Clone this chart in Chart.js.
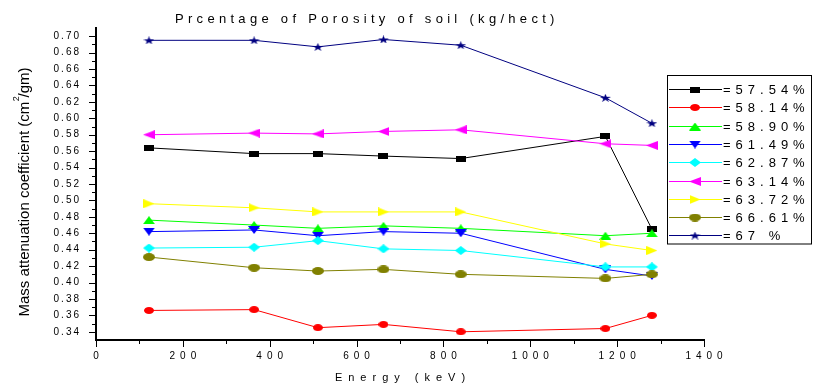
<!DOCTYPE html>
<html>
<head>
<meta charset="utf-8">
<script src="https://cdn.jsdelivr.net/npm/chart.js@4.4.1/dist/chart.umd.min.js"></script>
<style>
  html, body { margin: 0; padding: 0; background: #fff; }
  #wrap { width: 816px; height: 388px; }
</style>
</head>
<body>
<div id="wrap"><canvas id="chart" width="816" height="388"></canvas></div>
<script>
// energies (keV) and mass attenuation coefficient per porosity
const energies = [122, 364, 511, 662, 840, 1173, 1280];
const por5754 = [0.564, 0.557, 0.557, 0.554, 0.551, 0.578, 0.465];
const por5814 = [0.366, 0.367, 0.345, 0.349, 0.340, 0.344, 0.360];
const por5890 = [0.476, 0.470, 0.466, 0.469, 0.466, 0.457, 0.460];
const por6149 = [0.462, 0.464, 0.457, 0.462, 0.460, 0.416, 0.408];
const por6287 = [0.442, 0.443, 0.451, 0.441, 0.439, 0.419, 0.419];
const por6314 = [0.580, 0.582, 0.581, 0.584, 0.586, 0.569, 0.567];
const por6372 = [0.496, 0.491, 0.486, 0.486, 0.486, 0.447, 0.439];
const por6661 = [0.431, 0.418, 0.414, 0.416, 0.410, 0.405, 0.410];
const por6700 = [0.695, 0.695, 0.687, 0.696, 0.689, 0.625, 0.594];

const seriesLabels = ["=57.54%", "=58.14%", "=58.90%", "=61.49%", "=62.87%", "=63.14%", "=63.72%", "=66.61%", "=67 %"];
const seriesValues = [por5754, por5814, por5890, por6149, por6287, por6314, por6372, por6661, por6700];

const xTicks = [0, 200, 400, 600, 800, 1000, 1200, 1400];
const yTicks = [0.34, 0.36, 0.38, 0.40, 0.42, 0.44, 0.46, 0.48, 0.50, 0.52, 0.54, 0.56, 0.58, 0.60, 0.62, 0.64, 0.66, 0.68, 0.70];

const titleText = "Prcentage of Porosity of soil (kg/hect)";
const xTitle = "Energy (keV)";

// look of each series: colour, marker shape, marker w/h
const styles = [
  { color: "#000000", shape: "square", w: 10, h: 6 },
  { color: "#ff0000", shape: "circle", w: 10, h: 7 },
  { color: "#00ff00", shape: "up", w: 12, h: 8 },
  { color: "#0000ff", shape: "down", w: 12, h: 8 },
  { color: "#00ffff", shape: "diamond", w: 12, h: 9 },
  { color: "#ff00ff", shape: "left", w: 12, h: 9 },
  { color: "#ffff00", shape: "right", w: 11, h: 9 },
  { color: "#808000", shape: "circle", w: 12, h: 8 },
  { color: "#000080", shape: "star", w: 11, h: 8 }
];

const fontFam = '"Liberation Sans", Arial, sans-serif';

function spaced(str, sp) {
  return str.split("").join(sp);
}

function marker(shape, color, w, h) {
  const c = document.createElement("canvas");
  c.width = w;
  c.height = h;
  const g = c.getContext("2d");
  g.fillStyle = color;
  g.beginPath();
  if (shape === "square") {
    g.rect(0, 0, w, h);
  } else if (shape === "circle") {
    g.ellipse(w / 2, h / 2, w / 2, h / 2, 0, 0, Math.PI * 2);
  } else if (shape === "up") {
    g.moveTo(w / 2, 0); g.lineTo(w, h); g.lineTo(0, h);
  } else if (shape === "down") {
    g.moveTo(0, 0); g.lineTo(w, 0); g.lineTo(w / 2, h);
  } else if (shape === "diamond") {
    g.moveTo(w / 2, 0); g.lineTo(w, h / 2); g.lineTo(w / 2, h); g.lineTo(0, h / 2);
  } else if (shape === "left") {
    g.moveTo(0, h / 2); g.lineTo(w, 0); g.lineTo(w, h);
  } else if (shape === "right") {
    g.moveTo(0, 0); g.lineTo(w, h / 2); g.lineTo(0, h);
  } else if (shape === "star") {
    const rx = w / 1.902, ry = h / 1.809;
    for (let i = 0; i < 10; i++) {
      const r = i % 2 ? 0.382 : 1;
      const a = -Math.PI / 2 + i * Math.PI / 5;
      g.lineTo(w / 2 + Math.cos(a) * r * rx, ry + Math.sin(a) * r * ry);
    }
  }
  g.closePath();
  g.fill();
  return c;
}

const markers = styles.map((s) => marker(s.shape, s.color, s.w, s.h));

const datasets = seriesValues.map((vals, i) => ({
  label: seriesLabels[i],
  data: energies.map((e, j) => ({ x: e, y: vals[j] })),
  borderColor: styles[i].color,
  backgroundColor: styles[i].color,
  borderWidth: 1,
  pointStyle: markers[i],
  pointRadius: 5,
  tension: 0,
  fill: false,
  order: seriesValues.length - i
}));

const decor = {
  id: "decor",
  afterDraw(chart) {
    const ctx = chart.ctx;
    const xs = chart.scales.x, ys = chart.scales.y;
    const area = chart.chartArea;
    ctx.save();
    ctx.strokeStyle = "#000";
    ctx.lineWidth = 1;
    ctx.beginPath();
    // y ticks, major on labels, minor halfway
    yTicks.forEach((v, i) => {
      const py = Math.round(ys.getPixelForValue(v)) + 0.5;
      ctx.moveTo(area.left - 7, py); ctx.lineTo(area.left, py);
      if (i > 0) {
        const pm = Math.round(ys.getPixelForValue((v + yTicks[i - 1]) / 2)) + 0.5;
        ctx.moveTo(area.left - 4, pm); ctx.lineTo(area.left, pm);
      }
    });
    xTicks.forEach((v, i) => {
      const px = Math.round(xs.getPixelForValue(v)) + 0.5;
      ctx.moveTo(px, area.bottom); ctx.lineTo(px, area.bottom + 7);
      if (i > 0) {
        const pm = Math.round(xs.getPixelForValue((v + xTicks[i - 1]) / 2)) + 0.5;
        ctx.moveTo(pm, area.bottom); ctx.lineTo(pm, area.bottom + 4);
      }
    });
    ctx.stroke();

    ctx.fillStyle = "#000";
    ctx.textBaseline = "middle";

    // chart title
    ctx.font = "13px " + fontFam;
    ctx.letterSpacing = "4.3px";
    ctx.textAlign = "left";
    ctx.fillText(titleText, 175, 19);

    // x axis title
    ctx.font = "11px " + fontFam;
    ctx.letterSpacing = "6px";
    ctx.textAlign = "left";
    const xw = ctx.measureText(xTitle).width - 6;
    ctx.fillText(xTitle, (area.left + area.right) / 2 - xw / 2, 378);

    // y axis title with superscript
    ctx.letterSpacing = "0px";
    ctx.font = "15px " + fontFam;
    const p1 = "Mass attenuation coefficient (cm", p2 = "/gm)";
    const w1 = ctx.measureText(p1).width, wsp = ctx.measureText(" ").width, w2 = ctx.measureText(p2).width;
    const total = w1 + wsp + w2;
    ctx.save();
    ctx.translate(25, 192);
    ctx.rotate(-Math.PI / 2);
    ctx.textAlign = "left";
    ctx.fillText(p1, -total / 2, 0);
    ctx.fillText(p2, -total / 2 + w1 + wsp, 0);
    ctx.font = "9px " + fontFam;
    ctx.fillText("2", -total / 2 + w1 + 0.5, -8);
    ctx.restore();

    // legend box
    const lx = 667.5, ly = 75.5, lw = 144, lh = 168.5;
    ctx.fillStyle = "#fff";
    ctx.fillRect(lx, ly, lw, lh);
    ctx.strokeStyle = "#000";
    ctx.strokeRect(lx, ly, lw, lh);
    ctx.font = "13px " + fontFam;
    ctx.letterSpacing = "5px";
    seriesLabels.forEach((lab, i) => {
      const ry = Math.round(89 + i * 18.3) + 0.5;
      ctx.strokeStyle = styles[i].color;
      ctx.beginPath();
      ctx.moveTo(669, ry); ctx.lineTo(722, ry);
      ctx.stroke();
      const m = markers[i];
      ctx.drawImage(m, 695 - m.width / 2, ry - m.height / 2);
      ctx.fillStyle = "#000";
      ctx.fillText(lab, 723, ry + 1);
    });
    ctx.restore();
  }
};

new Chart(document.getElementById("chart"), {
  type: "line",
  data: { datasets },
  options: {
    responsive: false,
    animation: false,
    devicePixelRatio: 1,
    layout: { padding: { left: 0, right: 112, top: 28, bottom: 0 } },
    plugins: { legend: { display: false }, title: { display: false }, tooltip: { enabled: false } },
    scales: {
      x: {
        type: "linear",
        min: 0,
        max: 1400,
        afterBuildTicks: (scale) => { scale.ticks = xTicks.map((v) => ({ value: v })); },
        afterFit: (scale) => { scale.height = 48; },
        grid: { display: false, drawTicks: false },
        border: { display: true, color: "#000", width: 2 },
        ticks: {
          color: "#000",
          padding: 10,
          maxRotation: 0,
          autoSkip: false,
          font: { family: fontFam, size: 10 },
          callback: (v) => spaced(String(v), "\u2002")
        }
      },
      y: {
        min: 0.33,
        max: 0.71,
        afterBuildTicks: (scale) => { scale.ticks = yTicks.map((v) => ({ value: v })); },
        afterFit: (scale) => { scale.width = 96; },
        grid: { display: false, drawTicks: false },
        border: { display: true, color: "#000", width: 2 },
        ticks: {
          color: "#000",
          padding: 17,
          autoSkip: false,
          font: { family: fontFam, size: 10 },
          callback: (v) => spaced(v.toFixed(2), "\u2009")
        }
      }
    }
  },
  plugins: [decor]
});
</script>
</body>
</html>
